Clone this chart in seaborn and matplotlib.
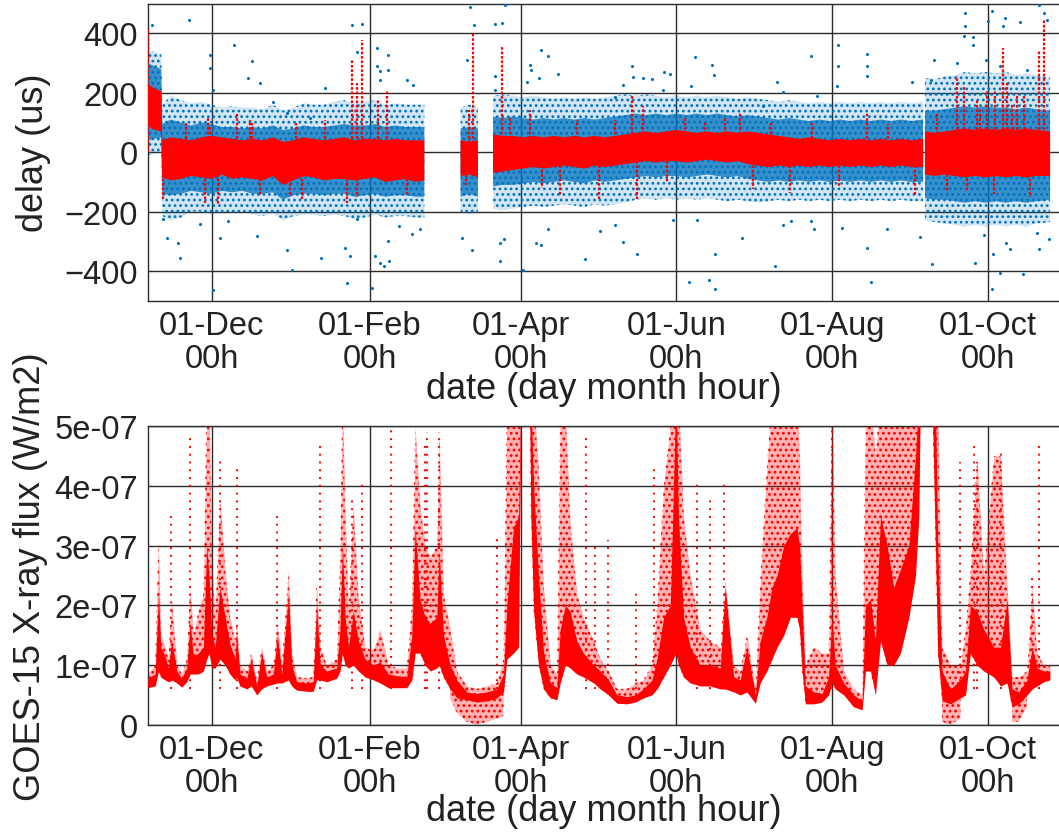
import numpy as np
import pandas as pd
import matplotlib
matplotlib.use("Agg")
import matplotlib.pyplot as plt
import matplotlib.dates as mdates
from matplotlib.ticker import FuncFormatter, FixedLocator
import seaborn as sns

# ---------------------------------------------------------------------------
# Time base: every "day" value below is an offset in days from START
# ---------------------------------------------------------------------------
START = pd.Timestamp("2016-11-06")
X_END_DAY = 357.0

# ---------------------------------------------------------------------------
# Delay (us): envelope knots of the measured scatter
#   red_*      : dense core of the filtered (red) samples
#   blue_*     : dense part of the raw (blue) samples
#   blue_out_* : extent of the sparse raw samples
# NaN rows mark the gaps without measurements
# ---------------------------------------------------------------------------
delay_days = [0, 2.5, 5.3, 5.7, 9, 13, 17, 21, 25, 29, 33, 37, 41, 45, 49, 53, 57, 61,
              65, 69, 73, 77, 81, 85, 89, 93, 97, 101, 105, 108.3,
              115,
              122.5, 126, 129.3,
              132,
              135.2, 139, 143, 147, 151, 155, 159, 163, 167, 171, 175, 179, 183, 187,
              191, 195, 199, 203, 207, 211, 215, 219, 223, 227, 231, 235, 239, 243,
              247, 251, 255, 259, 263, 267, 271, 275, 279, 283, 287, 291, 295, 299, 303.6,
              303.95,
              304.3, 308, 312, 316, 320, 324, 328, 332, 336, 340, 344, 348, 353.3]
red_lo = [90, 75, 70, -85, -95, -90, -80, -85, -90, -75, -90, -85, -90, -95, -80, -110, -95, -80,
          -85, -95, -90, -90, -95, -90, -85, -100, -95, -90, -100, -95,
          np.nan,
          -80, -75, -85,
          np.nan,
          -70, -65, -60, -55, -50, -55, -50, -45, -50, -55, -45, -50, -45, -40,
          -35, -30, -35, -30, -30, -35, -30, -25, -30, -35, -30, -40, -45, -50,
          -45, -50, -45, -50, -45, -50, -45, -50, -45, -50, -45, -50, -45, -50, -50,
          np.nan,
          -75, -80, -75, -80, -85, -80, -85, -80, -85, -80, -85, -80, -80]
red_hi = [230, 215, 205, 40, 50, 45, 40, 50, 55, 50, 45, 40, 45, 40, 50, 35, 40, 50,
          45, 40, 45, 50, 40, 45, 45, 40, 45, 40, 40, 40,
          np.nan,
          40, 35, 40,
          np.nan,
          60, 55, 55, 50, 55, 50, 55, 50, 55, 50, 55, 50, 55, 60,
          65, 70, 65, 70, 75, 70, 65, 70, 65, 70, 65, 70, 65, 60,
          55, 50, 45, 50, 45, 40, 45, 40, 45, 40, 45, 40, 45, 40, 45,
          np.nan,
          70, 65, 70, 75, 80, 75, 80, 75, 80, 75, 80, 75, 70]
blue_lo = [40, 45, 50, -140, -145, -140, -130, -135, -140, -130, -135, -130, -140, -140, -135, -160, -145, -140,
           -140, -145, -140, -140, -150, -145, -140, -150, -145, -145, -150, -150,
           np.nan,
           -150, -140, -150,
           np.nan,
           -115, -110, -110, -105, -100, -105, -100, -95, -100, -105, -95, -100, -95, -90,
           -85, -80, -85, -80, -80, -85, -80, -75, -80, -85, -80, -90, -95, -100,
           -95, -100, -95, -100, -95, -100, -95, -100, -95, -100, -95, -100, -95, -100, -100,
           np.nan,
           -155, -160, -160, -165, -170, -165, -170, -165, -170, -165, -170, -165, -160]
blue_hi = [300, 290, 280, 95, 110, 100, 90, 100, 95, 85, 85, 80, 85, 80, 90, 75, 80, 90,
           85, 85, 90, 95, 90, 90, 95, 85, 90, 85, 85, 85,
           np.nan,
           80, 85, 80,
           np.nan,
           120, 115, 120, 115, 110, 115, 110, 115, 110, 115, 110, 115, 120, 125,
           130, 125, 130, 125, 130, 125, 130, 125, 130, 125, 120, 125, 120, 115,
           110, 115, 110, 105, 110, 105, 110, 105, 110, 105, 110, 105, 110, 105, 110,
           np.nan,
           140, 140, 145, 150, 155, 150, 155, 150, 150, 145, 150, 145, 140]
blue_out_lo = [-10, -5, 0, -215, -230, -220, -200, -200, -210, -200, -205, -200, -210, -215, -205, -230, -215, -210,
               -210, -215, -210, -215, -225, -220, -210, -220, -215, -215, -220, -220,
               np.nan,
               -200, -210, -200,
               np.nan,
               -190, -195, -190, -185, -180, -185, -180, -175, -180, -185, -175, -180, -175, -170,
               -160, -155, -160, -155, -160, -155, -160, -155, -160, -165, -160, -165, -170, -165,
               -160, -165, -160, -165, -160, -165, -160, -165, -160, -165, -160, -165, -160, -165, -165,
               np.nan,
               -230, -235, -240, -245, -250, -245, -250, -245, -250, -245, -250, -240, -235]
blue_out_hi = [340, 340, 330, 160, 190, 175, 165, 170, 160, 150, 155, 150, 150, 145, 160, 140, 150, 165,
               160, 160, 170, 175, 165, 170, 175, 160, 165, 160, 160, 160,
               np.nan,
               150, 160, 150,
               np.nan,
               190, 195, 190, 185, 190, 185, 180, 185, 180, 185, 180, 185, 190, 195,
               190, 195, 190, 185, 190, 185, 190, 185, 190, 185, 180, 185, 180, 175,
               170, 175, 170, 165, 170, 165, 170, 165, 170, 165, 170, 165, 170, 165, 170,
               np.nan,
               250, 245, 255, 260, 270, 265, 270, 265, 270, 260, 265, 260, 250]

# short excursions of the filtered (red) delay
red_spike_days = [0.2, 6.0, 15.0, 22.5, 23.7, 24.4, 27.7, 34.8, 40.0, 40.7, 44.0, 55.7, 58.0,
                  60.3, 69.4, 78.0, 79.9, 81.9, 82.0, 83.8, 90.3, 93.6, 101.4, 124.5, 125.6,
                  127.5, 138.8, 142.0, 149.7, 154.3, 161.4, 168.0, 176.8, 183.0, 189.5, 191.5,
                  193.8, 203.2, 210.5, 218.0, 226.0, 231.9, 237.1, 244.0, 251.5, 260.0, 270.5,
                  281.8, 290.0, 300.5, 309.0, 313.0, 316.8, 319.7, 320.7, 324.7, 326.0, 328.6,
                  331.2, 331.8, 334.7, 336.4, 338.5, 340.3, 343.0, 345.5, 348.8, 350.8]
red_spike_vals = [412, -159, 100, -170, 120, 90, -176, 130, 110, 100, -148, -150, 100,
                  -161, 110, -170, 311, 233, -150, 379, 177, 211, -140, -110, 143,
                  401, 356, 120, 143, -120, -148, 110, -159, 110, 188, -159,
                  155, -100, 120, 105, 115, 132, -125, 100, -137, 99, -114,
                  132, 95, -148, 130, -130, 255, 222, -130, 180, 150, 211,
                  -140, 211, 351, 233, 160, 200, 190, -150, 345, 446]

# isolated raw (blue) samples far from the core
blue_pt_days = [1.8, 16.2, 24.2, 24.2, 33.6, 41.0, 39.4, 25.7, 44.0, 49.2, 54.4, 69.5, 63.6, 79.9, 81.9,
                6.1, 7.4, 12.7, 11.7, 20.5, 28.3, 31.6, 42.7, 54.4, 56.4, 67.9, 77.3, 79.2, 77.9, 25.7,
                83.8, 89.7, 93.9, 89.9, 91.0, 93.9, 91.0, 101.4, 103.8, 126.0, 127.8, 124.9,
                87.9, 89.0, 91.0, 92.7, 94.3, 94.0, 103.4, 98.2, 106.7, 123.0, 126.9, 82.1,
                136.0, 138.8, 139.9, 136.0, 136.0, 153.9, 156.9, 149.7, 149.9, 160.8, 153.3, 148.6,
                189.5, 189.9, 194.1, 197.6, 202.2, 204.5, 186.0, 183.0, 201.6, 214.3, 220.8, 221.9,
                212.6, 246.5, 240.8,
                137.9, 139.5, 137.9, 146.8, 153.9, 156.9, 151.9, 171.2, 177.1, 183.0, 186.0, 191.7,
                205.8, 215.0, 212.1, 219.8, 222.3, 222.3, 232.8, 245.6,
                259.8, 270.1, 270.1, 281.8, 281.8, 281.8, 248.9, 262.0, 270.0, 299.2, 307.7, 306.8,
                320.0, 320.0, 319.7, 323.0, 323.0, 316.8, 330.5, 329.0, 334.7, 335.8, 341.6, 348.8,
                350.8, 352.1, 344.2, 328.2, 333.5,
                248.9, 251.8, 259.8, 260.7, 271.8, 281.8, 283.3, 289.4, 302.5, 307.0, 324.0, 327.5,
                330.9, 333.8, 336.0, 337.7, 342.7, 348.8, 348.2, 352.7, 330.5]
blue_pt_vals = [429, 444, 328, 283, 362, 306, 250, 210, 233, 168, 132, 216, 115, 429, 339,
                -226, -288, -355, -305, -243, -288, -232, -282, -329, -397, -355, -322, -350, -439, -465,
                432, 351, 328, 289, 272, 278, 244, 244, 227, 489, 429, 311,
                -456, -349, -372, -383, -366, -299, -277, -249, -260, -288, -329, -226,
                431, 435, 495, 255, 211, 343, 325, 295, 278, 264, 250, 235,
                289, 253, 249, 246, 269, 264, 227, 186, 211, 319, 295, 261,
                224, 235, 155,
                -305, -291, -366, -397, -314, -260, -305, -361, -266, -246, -303, -344,
                -227, -227, -437, -431, -462, -344, -288, -383,
                323, 362, 291, 331, 289, 258, 202, 190, 222, 235, 311, 242,
                468, 426, 390, 388, 362, 300, 477, 443, 426, 452, 437, 496,
                468, 446, 278, 311, 291,
                -246, -232, -232, -260, -254, -322, -437, -260, -284, -375, -372, -280,
                -344, -406, -305, -325, -411, -325, -271, -291, -459]

# ---------------------------------------------------------------------------
# GOES-15 X-ray flux, in units of 1e-7 W/m2
#   flux_lo / flux_hi : dense core of the 1-minute samples
#   flux_top          : upper reach of the sparse samples (>= 5.5 is off scale)
# ---------------------------------------------------------------------------
FLUX_UNIT = 1e-7
flux_days = [0, 2.9, 4.2, 5.1, 6.8, 8.1, 9.4, 11.4, 13.3, 15.3, 16.6, 17.9, 19.8, 21.8, 23.1, 24.0,
             25.1, 26.4, 28.3, 30.3, 32.2, 34.2, 34.8, 36.1, 38.8, 40.5, 42.7, 44.6, 46.6, 49.2,
             50.8, 52.5, 55.1, 56.4, 58.3, 62.3, 64.8, 66.1, 67.5, 70.1, 74.0, 75.3, 76.2, 77.3,
             78.6, 80.5, 82.5, 85.1, 88.4, 91.0, 94.2, 97.5, 101.4, 103.4, 104.7, 106.6, 108.6,
             110.6, 113.2, 114.1, 115.8, 118.4, 121.0, 124.9, 128.8, 132.8, 136.7, 139.3, 140.6,
             143.2, 145.2, 146.1, 149.5, 150.0, 151.1, 153.0, 155.0, 157.6, 160.2, 161.5, 163.5,
             165.4, 168.0, 170.6, 174.6, 177.2, 180.4, 183.7, 187.6, 190.9, 194.1, 197.4, 199.4,
             202.0, 204.6, 206.8, 207.8, 209.8, 212.4, 216.3, 220.2, 224.2, 226.1, 229.4, 232.0,
             234.6, 237.9, 239.8, 242.4, 244.4, 246.4, 249.0, 251.6, 254.2, 255.2, 256.2, 257.5,
             260.8, 264.0, 266.6, 267.9, 269.2, 272.5, 276.4, 279.7, 281.0, 283.0, 284.9, 286.9,
             289.5, 292.1, 294.7, 298.0, 300.6, 301.9, 302.5, 307.1, 308.4, 309.3, 311.0, 314.3,
             318.2, 320.2, 322.1, 324.7, 327.3, 331.3, 333.9, 336.5, 338.4, 341.0, 344.3, 346.3,
             348.2, 350.8, 353.2]
flux_lo = [.62, .65, .9, .8, .75, .72, .75, .7, .63, .72, .85, .85, .85, .9, 1.1, 1.2,
           .95, .95, 1.1, 1.0, .85, .75, .8, .65, .6, .65, .5, .6, .65, .68,
           .7, .7, .75, .65, .58, .56, .56, .75, .75, .72, .78, .9, 1.2, 1.0,
           .95, 1.0, .9, .8, .75, .7, .62, .62, .62, .75, 1.2, 1.2, 1.0,
           .9, .95, 1.0, .8, .6, .45, .42, .38, .4, .45, .55, 1.1,
           1.2, 1.3, 5.5, 5.5, 3.5, 1.9, 1.0, .6, .45, .42, .7, 1.0,
           .95, .85, .8, .7, .6, .5, .36, .35, .38, .45, .5, .6,
           .8, 1.0, 1.2, 1.0, .8, .7, .65, .65, .6, .6, .55, .5,
           .55, .36, .7, .9, 1.1, 1.3, 1.5, 1.8, 1.8, 1.6, .9, .35,
           .35, .38, .5, .7, .6, .5, .3, .25, .9, .9, .5, 1.4,
           1.0, 1.0, 1.2, 1.8, 2.5, 3.5, 5.5, 5.5, 3.0, 1.2, .4, .35,
           .45, .5, 1.2, 1.0, .9, .8, .65, .7, .3, .35, .5, .6,
           .65, .72, .75]
flux_hi = [.78, .85, 2.2, 1.3, 1.15, .95, 1.4, .9, .78, .95, 1.7, 1.15, 1.2, 1.3, 3.0, 2.5,
           1.5, 1.3, 2.3, 1.8, 1.35, 1.1, 1.5, .85, .78, 1.1, .65, 1.2, .8, .85,
           1.5, .85, 2.2, 1.0, .72, .7, .72, 2.0, 1.0, .9, .95, 1.6, 3.0, 1.8,
           1.3, 1.9, 1.4, 1.1, 1.0, 1.05, .85, .82, .8, 1.5, 3.3, 2.1, 1.8,
           1.7, 1.8, 2.9, 1.5, 1.0, .75, .55, .52, .55, .6, .85, 2.0,
           3.3, 3.5, 5.5, 5.5, 5.5, 4.0, 2.5, 1.2, .7, .62, 1.6, 2.0,
           1.9, 1.4, 1.2, 1.0, .9, .75, .5, .47, .5, .6, .75, 1.1,
           1.8, 2.0, 5.5, 3.5, 1.8, 1.3, 1.0, 1.0, .95, 2.3, .8, .75,
           1.3, .5, 1.4, 1.8, 2.3, 2.5, 3.0, 3.2, 3.3, 3.0, 2.0, .65,
           .55, .52, .8, 1.8, 1.0, .7, .5, .4, 2.0, 2.1, 1.4, 3.5,
           3.0, 2.3, 2.6, 3.0, 4.5, 5.5, 5.5, 5.5, 5.5, 3.0, .9, .6,
           .75, .9, 2.0, 1.9, 1.6, 1.3, 1.3, 2.1, .6, .55, .75, 1.3,
           .95, .9, .9]
flux_top = [.85, 1.0, 3.1, 1.5, 1.3, 1.1, 2.1, 1.0, .85, 1.1, 2.3, 1.5, 1.9, 2.2, 5.5, 5.5,
            2.7, 1.8, 3.8, 2.6, 1.8, 1.4, 1.7, 1.0, .9, 1.2, .75, 1.3, .9, 1.0,
            1.7, 1.0, 2.6, 1.2, .8, .78, .8, 2.4, 1.3, 1.0, 1.1, 2.8, 5.5, 3.6,
            1.9, 3.7, 2.1, 1.3, 1.25, 1.6, 1.0, .95, .95, 2.0, 5.0, 3.7, 3.0,
            2.8, 3.0, 4.9, 2.2, 1.6, .9, .65, .6, .65, .7, 1.1, 5.5,
            5.5, 5.5, 5.5, 5.5, 5.5, 5.5, 4.3, 2.3, 1.0, .85, 5.3, 5.3,
            3.4, 2.2, 1.8, 1.4, 1.1, .9, .6, .6, .7, .75, 1.0, 2.0,
            4.0, 5.0, 5.5, 5.5, 3.5, 2.5, 1.6, 1.4, 1.3, 2.4, 1.0, .9,
            1.5, .6, 2.4, 4.3, 5.5, 5.5, 5.5, 5.5, 5.5, 4.5, 2.5, 1.0,
            1.3, 1.2, 1.2, 5.5, 2.5, .9, .6, .5, 5.0, 5.5, 4.5, 5.5,
            5.5, 5.5, 5.5, 5.5, 5.5, 5.5, 5.5, 5.5, 5.5, 5.5, 1.3, 1.0,
            1.0, 1.6, 2.6, 4.5, 2.5, 4.5, 4.5, 2.3, .8, .8, .9, 2.3,
            1.2, 1.0, 1.0]

# sparse samples below the core during the quietest periods
floor_days = [118.4, 121.0, 124.9, 128.8, 132.8, 136.7, 139.3,
              140.0,
              311.0, 314.3, 318.2,
              319.0,
              338.4, 341.0, 344.3]
floor_lo = [.45, .2, .05, .0, .05, .1, .15,
            np.nan,
            .05, .0, .1,
            np.nan,
            .05, .05, .3]
floor_hi = [.6, .45, .42, .38, .4, .45, .55,
            np.nan,
            .4, .35, .45,
            np.nan,
            .3, .35, .5]

# isolated bursts reaching well above the core
flux_burst_days = [9.0, 16.6, 28.3, 34.8, 50.8, 67.5, 79.9, 83.8, 95.2, 108.6, 109.5, 114.1,
                   136.7, 171.7, 175.2, 180.4, 191.3, 198.4, 215.0, 220.2, 225.5,
                   267.9, 318.2, 323.4, 324.7, 333.9, 346.3, 348.9]
flux_burst_tops = [3.6, 4.8, 4.5, 4.3, 3.5, 4.7, 3.8, 4.1, 5.0, 4.7, 4.9, 4.9,
                   3.2, 4.8, 3.05, 3.1, 2.2, 4.3, 4.1, 3.8, 4.1,
                   5.0, 4.4, 4.7, 4.4, 4.6, 2.5, 4.7]

# ---------------------------------------------------------------------------
RED = "#FF0000"
BLUE = "#0072BD"
INK = "#222222"
GRID = "#2b2b2b"


def as_dates(days):
    return START + pd.to_timedelta(np.asarray(days, dtype=float), unit="D")


delay = pd.DataFrame({"day": delay_days, "red_lo": red_lo, "red_hi": red_hi,
                      "blue_lo": blue_lo, "blue_hi": blue_hi,
                      "out_lo": blue_out_lo, "out_hi": blue_out_hi})
delay["date"] = as_dates(delay["day"])
flux = pd.DataFrame({"day": flux_days, "lo": flux_lo, "hi": flux_hi, "top": flux_top})
flux["date"] = as_dates(flux["day"])
for c in ("lo", "hi", "top"):
    flux[c] = flux[c] * FLUX_UNIT
floor = pd.DataFrame({"day": floor_days, "lo": floor_lo, "hi": floor_hi})
floor["date"] = as_dates(floor["day"])
blue_pts = pd.DataFrame({"date": as_dates(blue_pt_days), "delay": blue_pt_vals})
red_spikes = pd.DataFrame({"date": as_dates(red_spike_days), "delay": red_spike_vals})
bursts = pd.DataFrame({"date": as_dates(flux_burst_days),
                       "flux": np.asarray(flux_burst_tops) * FLUX_UNIT})

sns.set_theme(style="white")
plt.rcParams["font.family"] = ["Liberation Sans", "DejaVu Sans"]
plt.rcParams["hatch.linewidth"] = 1.2


def sparse_cloud(ax, x, lo, hi, color, tint):
    """Thinly scattered samples: a faint tint sprinkled with dots."""
    ax.fill_between(x, lo, hi, color=color, alpha=tint, linewidth=0, zorder=2)
    ax.fill_between(x, lo, hi, facecolor="none", edgecolor=color, hatch="...",
                    linewidth=0, zorder=2)


fig = plt.figure(figsize=(10.59, 8.37), dpi=100)
ax1 = fig.add_axes([0.1395, 0.6395, 0.8610, 0.3549])
ax2 = fig.add_axes([0.1395, 0.1330, 0.8610, 0.3565])

# ---- delay panel ----
sparse_cloud(ax1, delay["date"], delay["out_lo"], delay["out_hi"], BLUE, 0.18)
ax1.fill_between(delay["date"], delay["blue_lo"], delay["blue_hi"], color=BLUE,
                 alpha=0.75, linewidth=0, zorder=3)
sns.scatterplot(data=blue_pts, x="date", y="delay", ax=ax1, color=BLUE, s=5,
                marker="o", linewidth=0, zorder=3, legend=False)
ax1.vlines(red_spikes["date"], 0, red_spikes["delay"], colors=RED, linewidth=1.6,
           linestyles=(0, (1.2, 0.8)), zorder=4)
ax1.fill_between(delay["date"], delay["red_lo"], delay["red_hi"], color=RED,
                 linewidth=0, zorder=5)
ax1.set_ylim(-500, 500)
ax1.yaxis.set_major_locator(FixedLocator([-400, -200, 0, 200, 400]))
ax1.set_ylabel("delay (us)")

# ---- X-ray flux panel ----
sparse_cloud(ax2, flux["date"], flux["lo"], flux["top"], RED, 0.30)
sparse_cloud(ax2, floor["date"], floor["lo"] * FLUX_UNIT, floor["hi"] * FLUX_UNIT, RED, 0.30)
ax2.vlines(bursts["date"], 0.6 * FLUX_UNIT, bursts["flux"], colors=RED, linewidth=1.4,
           linestyles=(0, (1, 3)), zorder=2)
ax2.fill_between(flux["date"], flux["lo"], flux["hi"], color=RED, linewidth=0, zorder=3)
ax2.set_ylim(0, 5 * FLUX_UNIT)
ax2.yaxis.set_major_locator(FixedLocator([i * FLUX_UNIT for i in range(6)]))
ax2.yaxis.set_major_formatter(FuncFormatter(lambda v, p: "0" if abs(v) < 1e-12 else f"{v:.0e}"))
ax2.set_ylabel("GOES-15 X-ray flux (W/m2)")

for ax, ylab_x, xlab_y in ((ax1, -0.125, -0.297), (ax2, -0.129, -0.289)):
    ax.set_xlim(START, START + pd.Timedelta(days=X_END_DAY))
    ax.xaxis.set_major_locator(mdates.MonthLocator(bymonth=[12, 2, 4, 6, 8, 10], bymonthday=1))
    ax.xaxis.set_major_formatter(mdates.DateFormatter("%d-%b\n%Hh"))
    ax.grid(True, color=GRID, linewidth=1.0)
    ax.set_axisbelow(True)
    ax.tick_params(axis="both", labelsize=23.5, colors=INK, direction="in",
                   length=5, width=1, pad=7)
    for lab in ax.get_xticklabels():
        lab.set_linespacing(1.08)
        lab.set_ha("center")
    ax.set_xlabel("date (day month hour)", fontsize=26, color=INK, va="center")
    ax.xaxis.set_label_coords(0.5, xlab_y)
    ax.yaxis.label.set_fontsize(26)
    ax.yaxis.label.set_color(INK)
    ax.yaxis.label.set_va("center")
    ax.yaxis.set_label_coords(ylab_x, 0.5)
    for s in ax.spines.values():
        s.set_color(GRID)
        s.set_linewidth(1.0)

fig.savefig("out.png", dpi=100)
